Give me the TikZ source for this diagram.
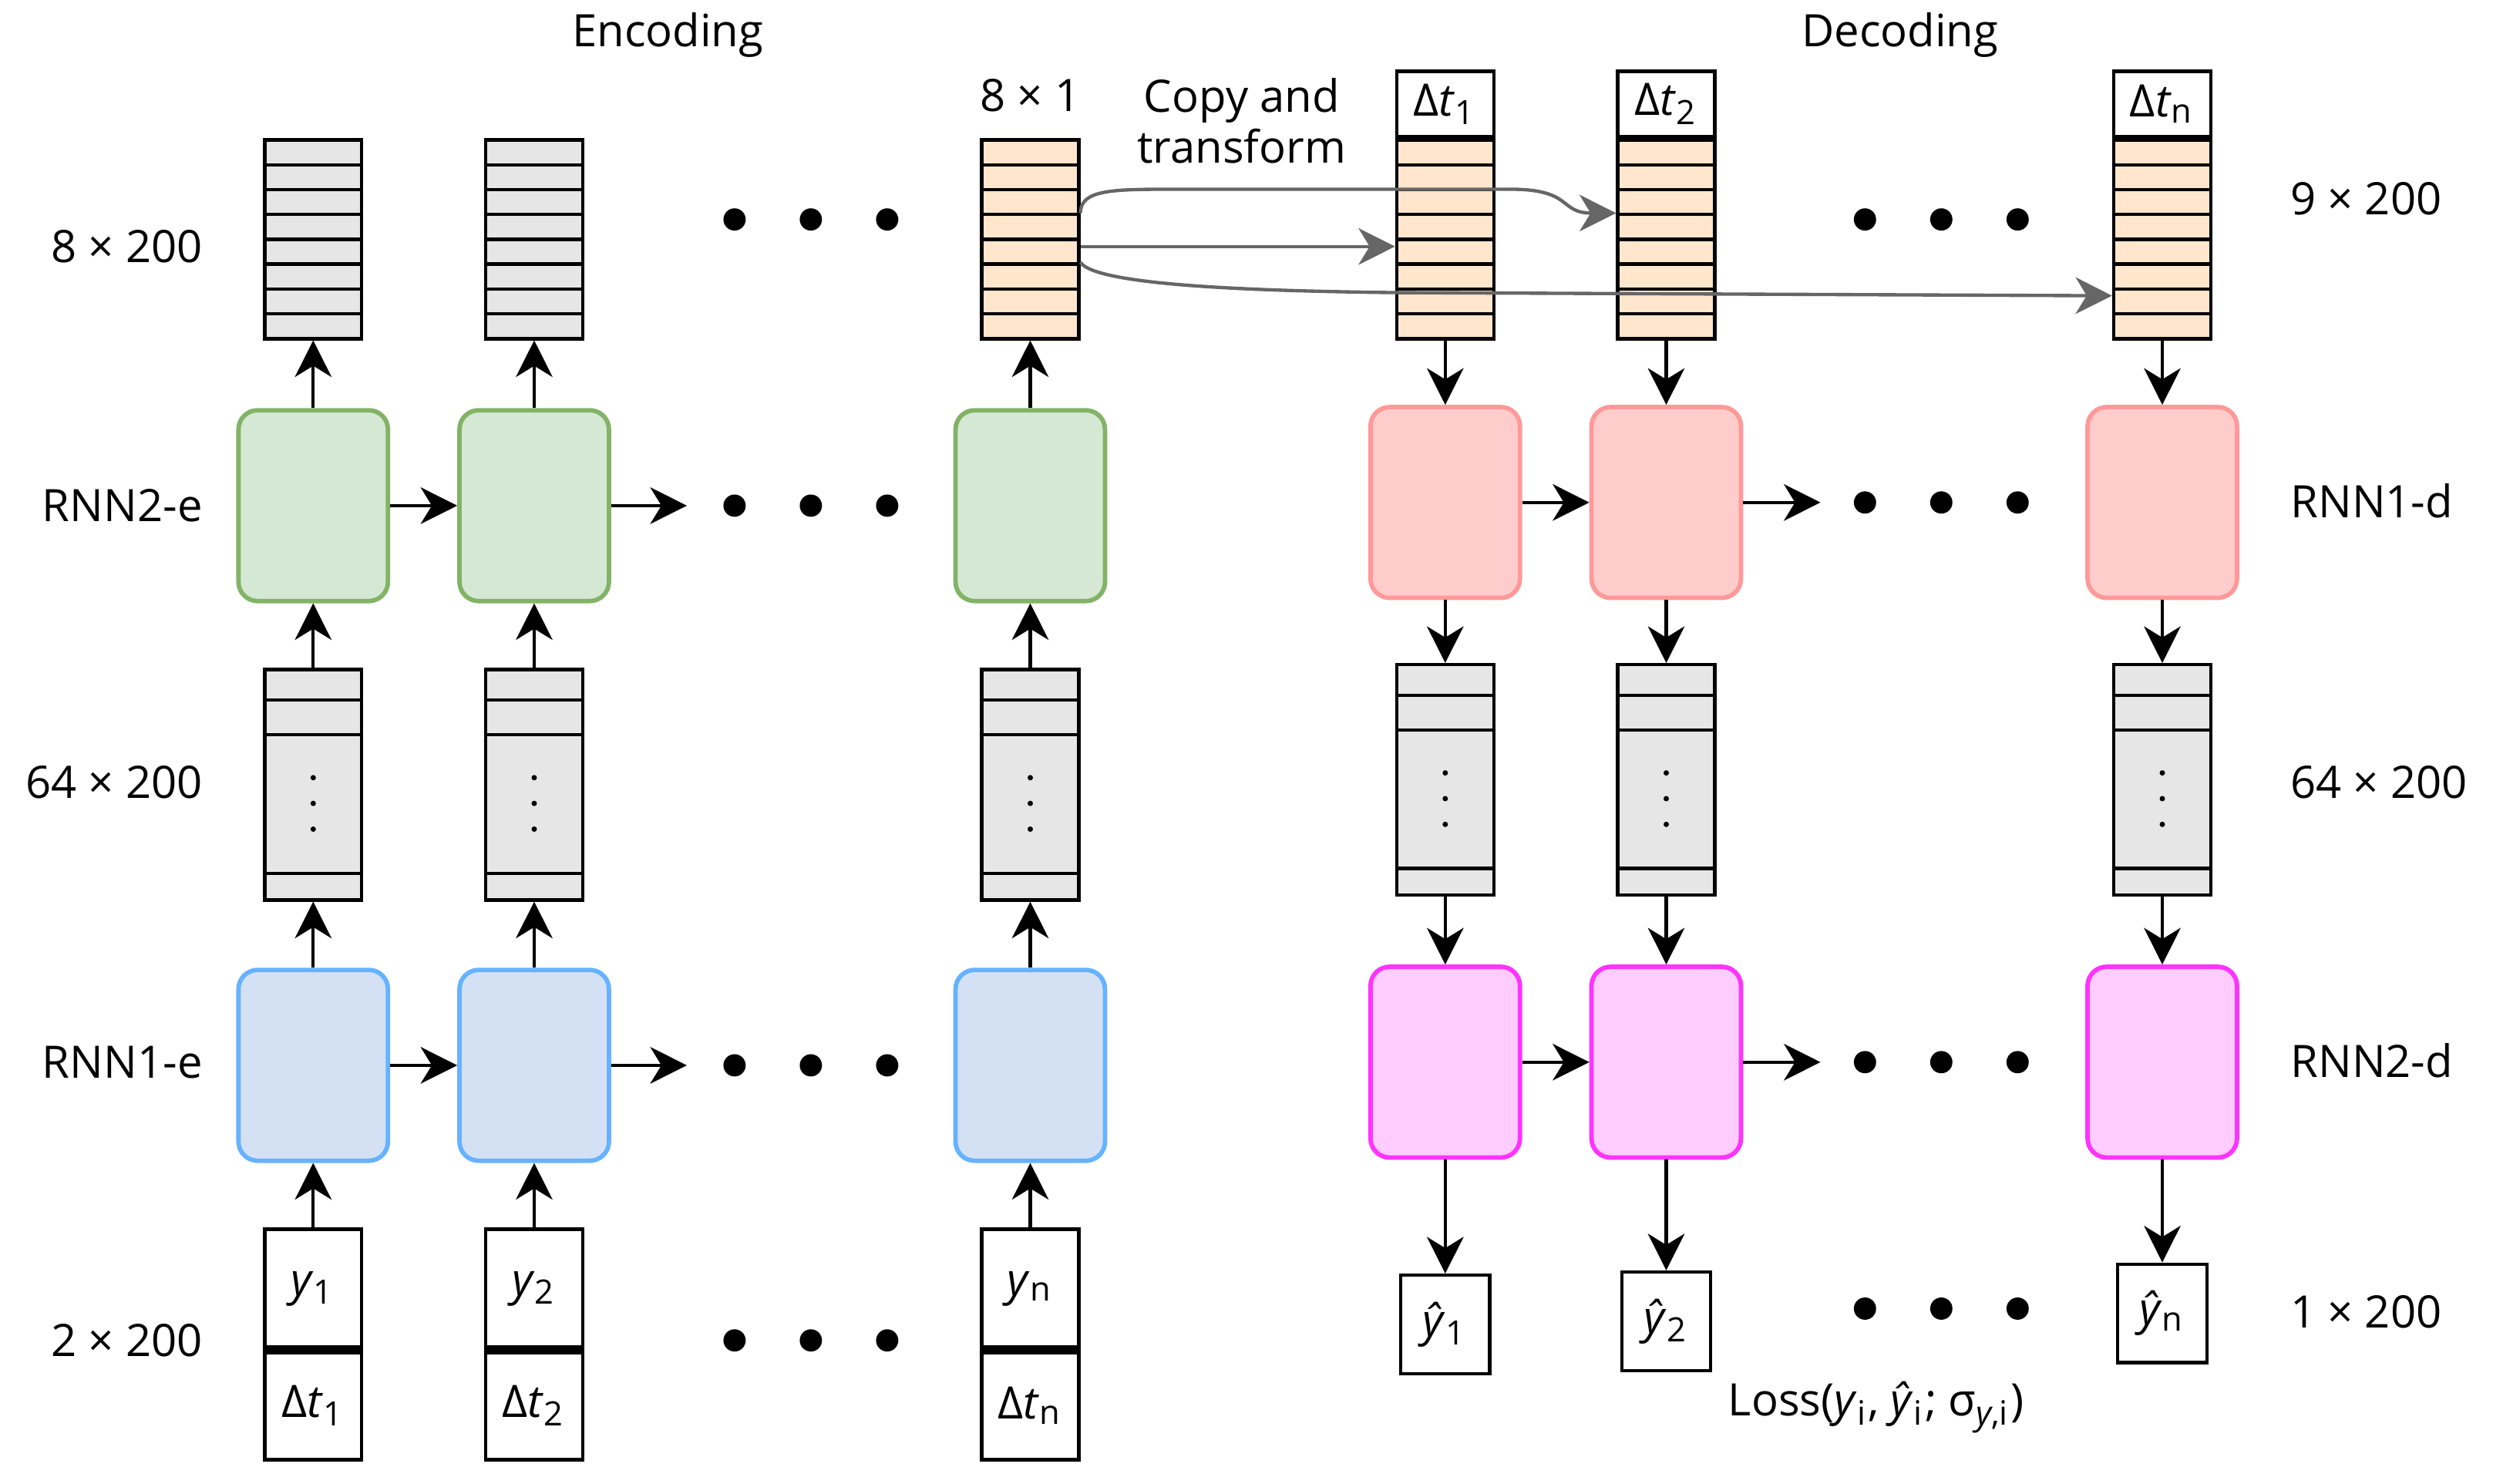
\documentclass[tikz,border=0pt]{standalone}
\usepackage{fontspec}
\setmainfont{Open Sans}
\usetikzlibrary{arrows.meta,calc}

\definecolor{cellgray}{HTML}{E6E6E6}
\definecolor{cellorange}{HTML}{FFE6CC}
\definecolor{greenfill}{HTML}{D5E8D4}
\definecolor{greenline}{HTML}{82B366}
\definecolor{bluefill}{HTML}{D4E1F5}
\definecolor{blueline}{HTML}{66B2FF}
\definecolor{pinkfill}{HTML}{FFCCCC}
\definecolor{pinkline}{HTML}{FF9999}
\definecolor{magfill}{HTML}{FFCCFF}
\definecolor{magline}{HTML}{FF33FF}
\definecolor{arrgray}{HTML}{666666}

\begin{document}
\begin{tikzpicture}[x=.1mm,y=-.1mm,font=\fontsize{8}{9.1}\selectfont,
    arr/.style={-{Stealth[length=2.3mm,width=2.3mm,inset=.7mm]},line width=.6pt},
    garr/.style={arr,draw=arrgray},
    lbl/.style={inner sep=0pt},
    cell/.style={draw,line width=.6pt,inner sep=0pt,minimum width=6.1mm},
    vec8/.style={cell,fill=#1,minimum height=12.5mm,path picture={
        \foreach \f in {1,...,7}
          \draw[line width=.6pt] ($(path picture bounding box.north west)!\f/8!(path picture bounding box.south west)$) -- ++(100,0);}},
    vec64/.style={cell,fill=cellgray,minimum height=14.5mm,path picture={
        \foreach \f in {0.133,0.284,0.884}
          \draw[line width=.6pt] ($(path picture bounding box.north west)!\f!(path picture bounding box.south west)$) -- ++(100,0);}},
    rnn/.style 2 args={draw=#1,fill=#2,line width=.8pt,rounded corners=1.2mm,minimum width=9.4mm,minimum height=12mm}]
  \useasboundingbox (0,0) rectangle (1568,933);

  \node (enc) at (420,22) {Encoding};
  \node (dec) at (1195,22) {Decoding};
  \node (sz) at (648,60) {8 × 1};
  \node[align=center] (cpy) at (781,76) {Copy and\\transform};

  \node[lbl,anchor=east] (le1) at (128,155) {8 × 200};
  \node[lbl,anchor=east] (le2) at (128,318) {RNN2-e};
  \node[lbl,anchor=east] (le3) at (128,492) {64 × 200};
  \node[lbl,anchor=east] (le4) at (128,668) {RNN1-e};
  \node[lbl,anchor=east] (le5) at (128,843) {2 × 200};
  \node[lbl,anchor=west] (ld1) at (1440,125) {9 × 200};
  \node[lbl,anchor=west] (ld2) at (1440,315) {RNN1-d};
  \node[lbl,anchor=west] (ld3) at (1440,492) {64 × 200};
  \node[lbl,anchor=west] (ld4) at (1440,667) {RNN2-d};
  \node[lbl,anchor=west] (ld5) at (1440,825) {1 × 200};

  \foreach \k/\x/\c in {1/197/cellgray,2/336/cellgray,n/648/cellorange}{
    \node[vec8=\c] (eo\k) at (\x,150.5) {};
    \node[rnn={greenline}{greenfill}] (er2\k) at (\x,318) {};
    \node[vec64] (eh\k) at (\x,493.5) {};
    \node[rnn={blueline}{bluefill}] (er1\k) at (\x,670) {};
    \node[cell,minimum height=7.5mm] (ey\k) at (\x,810.5) {\textit{y}\textsubscript{\k}};
    \node[cell,minimum height=6.8mm,anchor=north] (et\k) at (ey\k.south) {Δ\textit{t}\textsubscript{\k}};
    \draw[line width=1.6pt] (ey\k.south west) -- (ey\k.south east);
    \foreach \f in {0.47,0.58,0.69}
      \fill ($(eh\k.north)!\f!(eh\k.south)$) circle (.17mm);
    \draw[arr] (ey\k) -- (er1\k);
    \draw[arr] (er1\k) -- (eh\k);
    \draw[arr] (eh\k) -- (er2\k);
    \draw[arr] (er2\k) -- (eo\k);
  }

  \foreach \k/\x/\yy in {1/909/833,2/1048/831,n/1360/826}{
    \node[vec8=cellorange] (do\k) at (\x,150.5) {};
    \node[cell,minimum height=4.1mm,anchor=south] (dt\k) at (do\k.north) {Δ\textit{t}\textsubscript{\k}};
    \node[rnn={pinkline}{pinkfill}] (dr1\k) at (\x,316) {};
    \node[vec64] (dh\k) at (\x,490.5) {};
    \node[rnn={magline}{magfill}] (dr2\k) at (\x,668) {};
    \node[cell,minimum width=5.6mm,minimum height=6.2mm] (dy\k) at (\x,\yy) {\textit{ŷ}\textsubscript{\k}};
    \foreach \f in {0.47,0.58,0.69}
      \fill ($(dh\k.north)!\f!(dh\k.south)$) circle (.17mm);
    \draw[arr] (do\k) -- (dr1\k);
    \draw[arr] (dr1\k) -- (dh\k);
    \draw[arr] (dh\k) -- (dr2\k);
    \draw[arr] (dr2\k) -- (dy\k);
  }

  \coordinate (ee2) at (432,318);
  \coordinate (ee1) at (432,670);
  \coordinate (de1) at (1145,316);
  \coordinate (de2) at (1145,668);
  \draw[arr] (er21) -- (er22);
  \draw[arr] (er22) -- (ee2);
  \draw[arr] (er11) -- (er12);
  \draw[arr] (er12) -- (ee1);
  \draw[arr] (dr11) -- (dr12);
  \draw[arr] (dr12) -- (de1);
  \draw[arr] (dr21) -- (dr22);
  \draw[arr] (dr22) -- (de2);

  \foreach \y in {138,318,670,843}
    \foreach \x in {462,510,558}
      \fill (\x,\y) circle (.7mm);
  \foreach \y in {138,316,668,823}
    \foreach \x in {1173,1221,1269}
      \fill (\x,\y) circle (.7mm);

  \draw[garr] ([yshift=-.45mm]eon.east) -- ([yshift=-.45mm]do1.west);
  \draw[garr] ([yshift=1.65mm]eon.east) .. controls +(0,-15) and +(-40,0) .. (740,119)
    -- (950,119) .. controls (990,119) and (980,134) .. ([yshift=1.65mm]do2.west);
  \draw[garr] ([yshift=-1.45mm]eon.east) .. controls +(10,15) and +(-80,-1) .. (876,184)
    -- ([yshift=-3.55mm]don.west);

  \node (loss) at (1180,885) {Loss(\textit{y}\textsubscript{i}, \textit{ŷ}\textsubscript{i}; σ\textsubscript{\textit{y},i})};
\end{tikzpicture}
\end{document}
